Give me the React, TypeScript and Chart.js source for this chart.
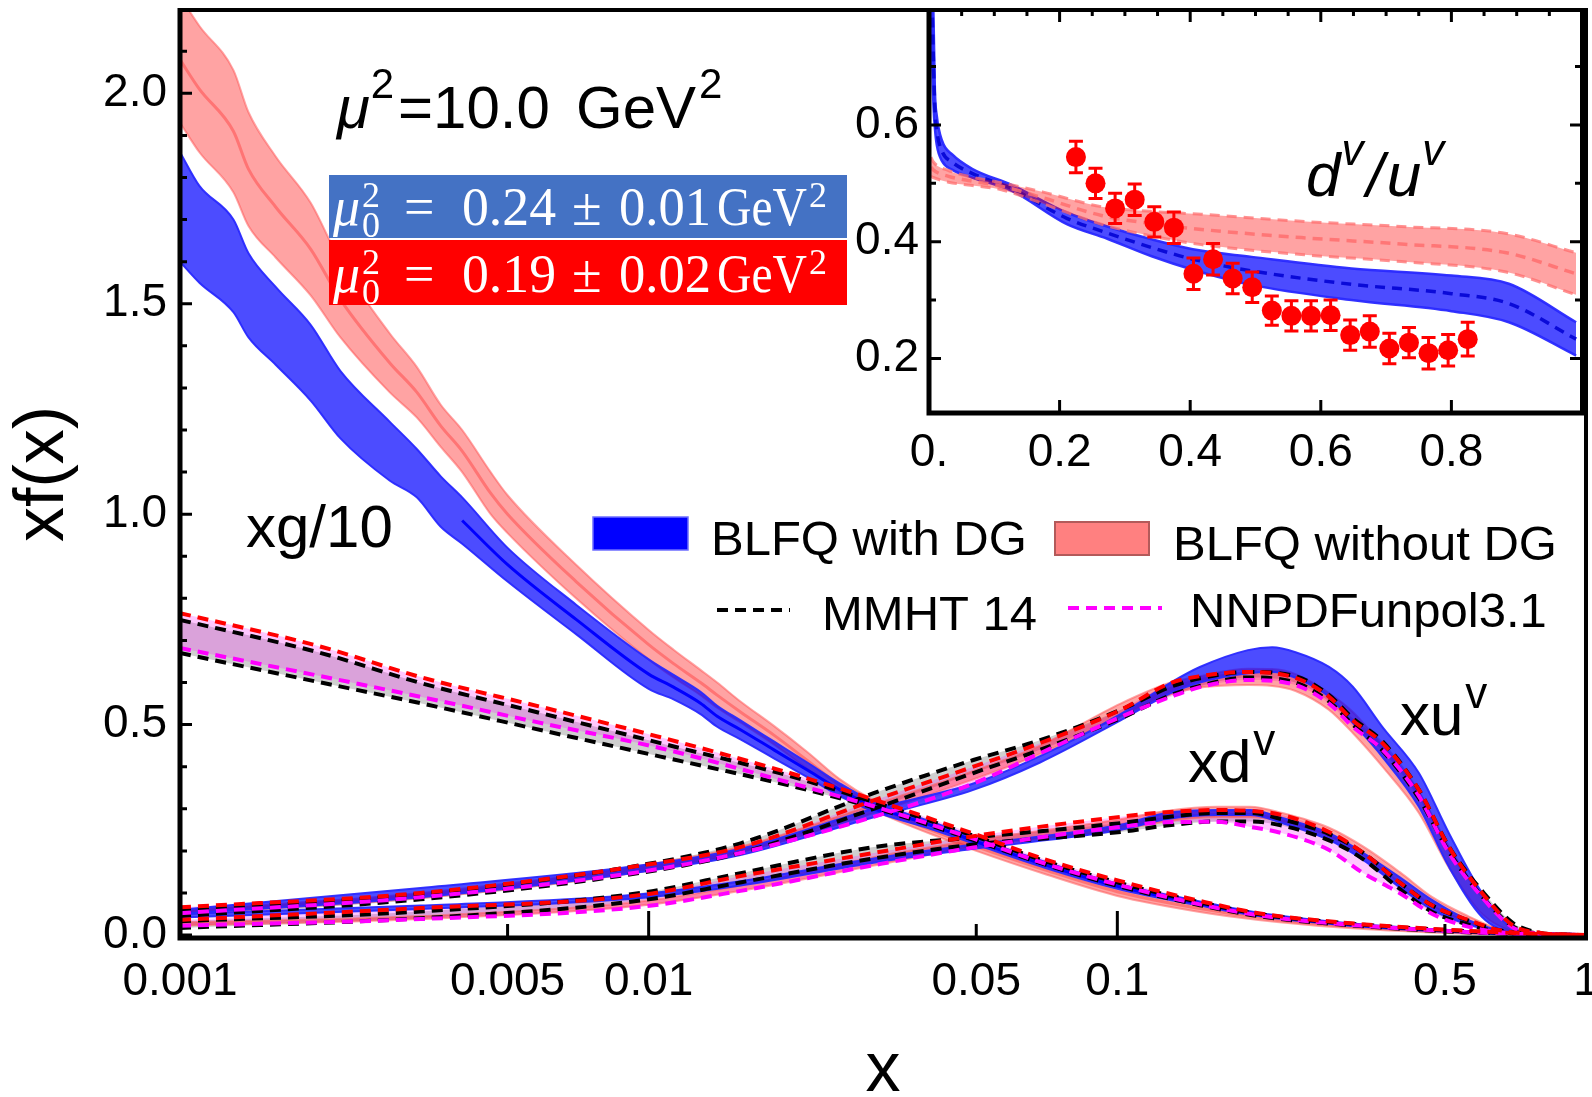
import React, { useEffect, useRef } from 'react';
import { Chart, registerables } from 'chart.js';

Chart.register(...registerables);

const SANS = "'Liberation Sans', Arial, Helvetica, sans-serif";
const SERIF = "'Liberation Serif', 'Times New Roman', serif";

// ---------------- main panel: axes ----------------
const X_TICKS = [0.001, 0.005, 0.01, 0.05, 0.1, 0.5, 1];
const X_TICK_LABELS = ['0.001', '0.005', '0.01', '0.05', '0.1', '0.5', '1'];
const X_MARKS_MAJOR = [0.01, 0.1];
const X_MARKS_MINOR = [0.005, 0.05, 0.5];
const Y_TICKS = [0, 0.5, 1, 1.5, 2];
const Y_TICK_LABELS = ['0.0', '0.5', '1.0', '1.5', '2.0'];
const Y_MINOR = [0.1, 0.2, 0.3, 0.4, 0.6, 0.7, 0.8, 0.9, 1.1, 1.2, 1.3, 1.4, 1.6, 1.7, 1.8, 1.9, 2.1];

// ---------------- xg/10 ----------------
const XG_BLUE_X = [0.001, 0.0011, 0.0013, 0.0014, 0.0016, 0.0019, 0.0022, 0.0028, 0.0032, 0.0036, 0.004, 0.005, 0.007, 0.01, 0.0113, 0.0129, 0.014, 0.0157, 0.0185, 0.0218, 0.0256, 0.03, 0.04, 0.05, 0.07, 0.1, 0.15, 0.2, 0.3, 0.5, 0.7, 1];
const XG_BLUE_LO = [1.60, 1.55, 1.48, 1.42, 1.355, 1.27, 1.18, 1.08, 1.04, 0.97, 0.93, 0.84, 0.715, 0.585, 0.56, 0.525, 0.495, 0.465, 0.42, 0.375, 0.33, 0.295, 0.252, 0.215, 0.16, 0.11, 0.07, 0.045, 0.024, 0.008, 0.002, 0];
const XG_BLUE_HI = [1.86, 1.78, 1.70, 1.62, 1.54, 1.45, 1.34, 1.22, 1.155, 1.09, 1.04, 0.92, 0.785, 0.655, 0.618, 0.578, 0.545, 0.51, 0.46, 0.41, 0.36, 0.318, 0.27, 0.23, 0.174, 0.122, 0.08, 0.053, 0.03, 0.012, 0.004, 0];
const XG_BLUE_MID_X = [0.004, 0.005, 0.007, 0.01, 0.0113, 0.0129, 0.014, 0.0157, 0.0185, 0.0218, 0.0256, 0.03, 0.04, 0.05, 0.07, 0.1, 0.15, 0.2, 0.3, 0.5, 0.7, 1];
const XG_BLUE_MID = [0.985, 0.88, 0.75, 0.62, 0.589, 0.551, 0.52, 0.488, 0.44, 0.392, 0.345, 0.307, 0.261, 0.222, 0.167, 0.116, 0.075, 0.049, 0.027, 0.01, 0.003, 0];

const XG_PINK_X = [0.001, 0.0011, 0.0013, 0.0014, 0.0016, 0.0019, 0.0022, 0.0028, 0.0032, 0.0036, 0.004, 0.0046, 0.005, 0.007, 0.01, 0.0113, 0.0129, 0.014, 0.0157, 0.0185, 0.0218, 0.0256, 0.03, 0.04, 0.05, 0.07, 0.1, 0.15, 0.2, 0.3, 0.5, 0.7, 1];
const XG_PINK_LO = [1.93, 1.86, 1.765, 1.685, 1.61, 1.52, 1.42, 1.29, 1.23, 1.16, 1.10, 1.00, 0.955, 0.80, 0.655, 0.612, 0.57, 0.54, 0.505, 0.453, 0.395, 0.34, 0.298, 0.24, 0.20, 0.145, 0.093, 0.055, 0.036, 0.018, 0.005, 0.001, 0];
const XG_PINK_HI = [2.23, 2.16, 2.055, 1.955, 1.85, 1.74, 1.60, 1.43, 1.35, 1.26, 1.20, 1.10, 1.045, 0.88, 0.725, 0.678, 0.63, 0.60, 0.555, 0.497, 0.435, 0.37, 0.322, 0.26, 0.22, 0.165, 0.113, 0.071, 0.048, 0.026, 0.011, 0.003, 0];
const XG_PINK_MID = [2.08, 2.01, 1.91, 1.82, 1.73, 1.63, 1.51, 1.36, 1.29, 1.21, 1.15, 1.05, 1.00, 0.84, 0.69, 0.645, 0.60, 0.57, 0.53, 0.475, 0.415, 0.355, 0.31, 0.25, 0.21, 0.155, 0.103, 0.063, 0.042, 0.022, 0.008, 0.002, 0];

const XG_GLOBAL_X = [0.001, 0.002, 0.00326, 0.006, 0.0106, 0.02, 0.0302, 0.0493, 0.07, 0.1016, 0.15, 0.2, 0.3, 0.5, 0.7, 1];
const XG_MMHT_LO = [0.670, 0.600, 0.551, 0.485, 0.424, 0.355, 0.303, 0.226, 0.168, 0.115, 0.071, 0.045, 0.025, 0.009, 0.003, 0];
const XG_MMHT_HI = [0.749, 0.670, 0.599, 0.525, 0.456, 0.378, 0.316, 0.236, 0.176, 0.123, 0.078, 0.050, 0.029, 0.012, 0.004, 0];
const XG_NNPDF_LO = [0.682, 0.615, 0.566, 0.502, 0.444, 0.362, 0.306, 0.229, 0.170, 0.118, 0.073, 0.047, 0.026, 0.010, 0.003, 0];
const XG_NNPDF_HI = [0.765, 0.685, 0.613, 0.540, 0.470, 0.385, 0.322, 0.241, 0.180, 0.128, 0.081, 0.052, 0.030, 0.013, 0.005, 0];

// ---------------- xu^v ----------------
const XU_GLOBAL_X = [0.001, 0.00326, 0.0096, 0.0157, 0.0302, 0.0493, 0.0684, 0.1016, 0.13, 0.15, 0.19, 0.24, 0.283, 0.318, 0.368, 0.44, 0.51, 0.6, 0.7, 0.8, 0.9, 1];
const XU_MMHT_LO = [0.045, 0.085, 0.148, 0.195, 0.300, 0.385, 0.440, 0.515, 0.570, 0.592, 0.612, 0.600, 0.555, 0.500, 0.438, 0.325, 0.198, 0.092, 0.020, 0.003, 0.0005, 0];
const XU_MMHT_HI = [0.058, 0.098, 0.166, 0.218, 0.337, 0.416, 0.463, 0.535, 0.590, 0.610, 0.625, 0.615, 0.570, 0.515, 0.460, 0.345, 0.210, 0.105, 0.028, 0.005, 0.001, 0];
const XU_NNPDF_LO = [0.052, 0.090, 0.150, 0.195, 0.281, 0.360, 0.432, 0.518, 0.566, 0.589, 0.606, 0.594, 0.550, 0.495, 0.440, 0.330, 0.195, 0.090, 0.017, 0.003, 0.0005, 0];
const XU_NNPDF_HI = [0.066, 0.100, 0.165, 0.209, 0.320, 0.400, 0.456, 0.535, 0.599, 0.615, 0.625, 0.611, 0.566, 0.510, 0.456, 0.345, 0.209, 0.100, 0.022, 0.005, 0.001, 0];

const XU_BLFQ_X = [0.001, 0.00326, 0.0096, 0.0157, 0.0302, 0.0493, 0.0684, 0.1016, 0.13, 0.15, 0.19, 0.214, 0.24, 0.283, 0.318, 0.368, 0.44, 0.51, 0.6, 0.7, 0.8, 1];
const XU_BLUE_LO = [0.050, 0.090, 0.150, 0.190, 0.280, 0.345, 0.410, 0.510, 0.575, 0.600, 0.622, 0.625, 0.611, 0.566, 0.504, 0.423, 0.305, 0.162, 0.043, 0.005, 0.0, 0];
const XU_BLUE_HI = [0.060, 0.112, 0.165, 0.205, 0.300, 0.360, 0.425, 0.525, 0.600, 0.637, 0.677, 0.684, 0.672, 0.637, 0.590, 0.494, 0.385, 0.242, 0.100, 0.015, 0.003, 0];
const XU_PINK_LO = [0.050, 0.088, 0.150, 0.195, 0.290, 0.370, 0.430, 0.520, 0.572, 0.588, 0.594, 0.592, 0.580, 0.535, 0.480, 0.400, 0.290, 0.160, 0.050, 0.008, 0.001, 0];
const XU_PINK_HI = [0.058, 0.100, 0.165, 0.210, 0.310, 0.390, 0.450, 0.550, 0.600, 0.615, 0.633, 0.632, 0.620, 0.575, 0.530, 0.450, 0.340, 0.210, 0.090, 0.015, 0.003, 0];

// ---------------- xd^v ----------------
const XD_X = [0.001, 0.00326, 0.0096, 0.0157, 0.0302, 0.0493, 0.1016, 0.127, 0.163, 0.192, 0.225, 0.283, 0.335, 0.40, 0.47, 0.56, 0.65, 0.8, 1];
const XD_MMHT_LO = [0.017, 0.040, 0.082, 0.125, 0.182, 0.215, 0.245, 0.260, 0.270, 0.270, 0.260, 0.225, 0.180, 0.110, 0.055, 0.025, 0.008, 0.001, 0];
const XD_MMHT_HI = [0.033, 0.056, 0.100, 0.147, 0.209, 0.232, 0.266, 0.280, 0.290, 0.290, 0.275, 0.240, 0.195, 0.125, 0.070, 0.035, 0.012, 0.002, 0];
const XD_NNPDF_LO = [0.022, 0.038, 0.067, 0.105, 0.166, 0.208, 0.257, 0.268, 0.269, 0.257, 0.242, 0.202, 0.147, 0.100, 0.050, 0.020, 0.007, 0.001, 0];
const XD_NNPDF_HI = [0.036, 0.064, 0.095, 0.140, 0.195, 0.235, 0.281, 0.292, 0.297, 0.295, 0.285, 0.245, 0.195, 0.125, 0.070, 0.036, 0.012, 0.002, 0];
const XD_BLUE_LO = [0.042, 0.062, 0.088, 0.118, 0.172, 0.205, 0.250, 0.275, 0.285, 0.285, 0.266, 0.226, 0.178, 0.114, 0.060, 0.025, 0.008, 0.001, 0];
const XD_BLUE_HI = [0.050, 0.070, 0.097, 0.128, 0.182, 0.215, 0.262, 0.290, 0.297, 0.297, 0.278, 0.242, 0.195, 0.138, 0.083, 0.036, 0.012, 0.002, 0];
const XD_PINK_LO = [0.022, 0.038, 0.070, 0.105, 0.165, 0.210, 0.250, 0.270, 0.280, 0.280, 0.270, 0.235, 0.190, 0.125, 0.070, 0.030, 0.010, 0.001, 0];
const XD_PINK_HI = [0.030, 0.045, 0.080, 0.118, 0.185, 0.225, 0.275, 0.295, 0.305, 0.305, 0.290, 0.255, 0.210, 0.150, 0.090, 0.045, 0.015, 0.003, 0];

// ---------------- inset d^v/u^v ----------------
const R_X_TICKS = [0, 0.2, 0.4, 0.6, 0.8];
const R_X_TICK_LABELS = ['0.', '0.2', '0.4', '0.6', '0.8'];
const R_X_TOP_MINOR = [0.05, 0.1, 0.15, 0.25, 0.3, 0.35, 0.45, 0.5, 0.55, 0.65, 0.7, 0.75, 0.85, 0.9, 0.95];
const R_Y_TICKS = [0.2, 0.4, 0.6];
const R_Y_TICK_LABELS = ['0.2', '0.4', '0.6'];
const R_Y_MINOR = [0.3, 0.5, 0.7];

const R_BLUE_X = [0.003, 0.005, 0.007, 0.009, 0.012, 0.02, 0.036, 0.066, 0.127, 0.211, 0.273, 0.341, 0.404, 0.494, 0.647, 0.80, 0.888, 0.991];
const R_BLUE_LO = [0.86, 0.70, 0.63, 0.595, 0.565, 0.538, 0.523, 0.51, 0.487, 0.430, 0.405, 0.375, 0.352, 0.326, 0.300, 0.281, 0.262, 0.205];
const R_BLUE_HI = [1.00, 0.88, 0.78, 0.66, 0.615, 0.573, 0.549, 0.525, 0.497, 0.450, 0.426, 0.404, 0.387, 0.374, 0.354, 0.342, 0.328, 0.262];
const R_BLUE_MID = [0.93, 0.79, 0.70, 0.627, 0.59, 0.555, 0.536, 0.517, 0.491, 0.44, 0.415, 0.39, 0.37, 0.35, 0.327, 0.311, 0.294, 0.233];

const R_PINK_X = [0.003, 0.0065, 0.03, 0.06, 0.111, 0.175, 0.264, 0.34, 0.417, 0.570, 0.723, 0.884, 0.991];
const R_PINK_LO = [0.512, 0.51, 0.502, 0.497, 0.489, 0.465, 0.43, 0.41, 0.395, 0.378, 0.366, 0.348, 0.309];
const R_PINK_HI = [0.545, 0.537, 0.522, 0.512, 0.501, 0.485, 0.46, 0.452, 0.447, 0.435, 0.426, 0.414, 0.381];
const R_PINK_MID = [0.528, 0.523, 0.512, 0.505, 0.495, 0.475, 0.445, 0.431, 0.421, 0.407, 0.396, 0.381, 0.345];

const DATA_X = [0.225, 0.255, 0.285, 0.315, 0.345, 0.375, 0.405, 0.435, 0.465, 0.495, 0.525, 0.555, 0.585, 0.615, 0.645, 0.675, 0.705, 0.735, 0.765, 0.795, 0.825];
const DATA_Y = [0.545, 0.500, 0.457, 0.472, 0.434, 0.424, 0.345, 0.370, 0.337, 0.322, 0.282, 0.273, 0.273, 0.274, 0.240, 0.246, 0.217, 0.227, 0.209, 0.214, 0.233];
const DATA_ERR = [0.027, 0.026, 0.026, 0.027, 0.026, 0.027, 0.027, 0.027, 0.026, 0.026, 0.025, 0.026, 0.026, 0.026, 0.026, 0.027, 0.026, 0.026, 0.027, 0.027, 0.029];

// ---------------- styles ----------------
const BLUE_FILL = 'rgba(0,0,255,0.70)';
const BLUE_EDGE = 'rgba(40,40,255,0.95)';
const PINK_FILL = 'rgba(255,0,0,0.36)';
const PINK_EDGE = 'rgba(255,90,90,0.55)';
const GRAY_FILL = 'rgba(140,140,140,0.42)';
const MAG_FILL = 'rgba(255,0,255,0.22)';
const DASH = [11, 7];
const DASH_W = 4;

type P = { x: number; y: number };
const pts = (xs: number[], ys: number[]): P[] => xs.map((x, i) => ({ x, y: ys[i] }));

function line(data: P[], color: string, width: number, order: number, dash: number[] = [], fill: any = false, bg?: string) {
  return {
    data,
    borderColor: color,
    borderWidth: width,
    borderDash: dash,
    order,
    fill,
    backgroundColor: bg ?? 'transparent',
    pointRadius: 0,
    pointHoverRadius: 0,
    cubicInterpolationMode: 'monotone',
    clip: 0,
  };
}

function band(xs: number[], lo: number[], hi: number[], fillColor: string, edge: string, w: number, order: number, dash: number[] = []) {
  return [line(pts(xs, lo), edge, w, order, dash), line(pts(xs, hi), edge, w, order, dash, '-1', fillColor)];
}

function txt(ctx: CanvasRenderingContext2D, s: string, x: number, y: number, font: string, color = '#000', maxW?: number) {
  ctx.font = font;
  ctx.fillStyle = color;
  ctx.textAlign = 'left';
  ctx.textBaseline = 'alphabetic';
  if (maxW) ctx.fillText(s, x, y, maxW);
  else ctx.fillText(s, x, y);
  return ctx.measureText(s).width;
}

const mainOverlay = {
  id: 'mainOverlay',
  afterDraw(chart: any) {
    const { ctx, chartArea: a } = chart;
    const xs = chart.scales.x;
    const ys = chart.scales.y;
    ctx.save();
    // inward ticks
    ctx.strokeStyle = '#000';
    ctx.lineWidth = 3;
    ctx.setLineDash([]);
    ctx.beginPath();
    Y_TICKS.forEach((v) => { const y = ys.getPixelForValue(v); ctx.moveTo(a.left, y); ctx.lineTo(a.left + 12, y); });
    Y_MINOR.forEach((v) => { const y = ys.getPixelForValue(v); ctx.moveTo(a.left, y); ctx.lineTo(a.left + 7, y); });
    X_MARKS_MAJOR.forEach((v) => { const x = xs.getPixelForValue(v); ctx.moveTo(x, a.bottom); ctx.lineTo(x, a.bottom - 27); });
    X_MARKS_MINOR.forEach((v) => { const x = xs.getPixelForValue(v); ctx.moveTo(x, a.bottom); ctx.lineTo(x, a.bottom - 14); });
    ctx.stroke();
    // frame
    ctx.lineWidth = 4;
    ctx.strokeRect(a.left, a.top, a.right - a.left, a.bottom - a.top);
    ctx.lineWidth = 5;
    ctx.beginPath();
    ctx.moveTo(a.left, a.top - 2);
    ctx.lineTo(a.left, a.bottom);
    ctx.lineTo(a.right + 2, a.bottom);
    ctx.stroke();

    // mu^2 = 10.0 GeV^2
    let x = 337;
    x += txt(ctx, 'μ', x, 128, `italic 60px ${SANS}`);
    txt(ctx, '2', x + 1, 98, `42px ${SANS}`);
    txt(ctx, '=10.0', 398, 128, `60px ${SANS}`);
    const gw = txt(ctx, 'GeV', 576, 128, `60px ${SANS}`);
    txt(ctx, '2', 576 + gw + 3, 98, `42px ${SANS}`);

    // boxes
    ctx.fillStyle = '#4472c4';
    ctx.fillRect(329, 175, 518, 63);
    ctx.fillStyle = '#ff0000';
    ctx.fillRect(329, 240, 518, 65);
    const boxLine = (base: number, val: string, err: string) => {
      txt(ctx, 'μ', 333, base, `italic 54px ${SERIF}`, '#fff');
      txt(ctx, '2', 362, base - 18, `36px ${SERIF}`, '#fff');
      txt(ctx, '0', 362, base + 12, `36px ${SERIF}`, '#fff');
      txt(ctx, '=', 404, base, `54px ${SERIF}`, '#fff');
      txt(ctx, val, 462, base, `54px ${SERIF}`, '#fff', 94);
      txt(ctx, '±', 572, base, `54px ${SERIF}`, '#fff', 30);
      txt(ctx, err, 619, base, `54px ${SERIF}`, '#fff', 92);
      txt(ctx, 'GeV', 717, base, `54px ${SERIF}`, '#fff', 90);
      txt(ctx, '2', 809, base - 18, `36px ${SERIF}`, '#fff');
    };
    boxLine(225, '0.24', '0.01');
    boxLine(292, '0.19', '0.02');

    // curve labels
    txt(ctx, 'xg/10', 246, 547, `60px ${SANS}`);
    const uw = txt(ctx, 'xu', 1400, 735, `60px ${SANS}`);
    txt(ctx, 'v', 1400 + uw + 2, 708, `44px ${SANS}`);
    const dw = txt(ctx, 'xd', 1188, 782, `60px ${SANS}`);
    txt(ctx, 'v', 1188 + dw + 2, 755, `44px ${SANS}`);

    // legend
    ctx.fillStyle = '#0000ff';
    ctx.fillRect(593, 517, 95, 33);
    ctx.strokeStyle = 'rgba(110,110,255,1)';
    ctx.lineWidth = 1.5;
    ctx.strokeRect(593, 517, 95, 33);
    txt(ctx, 'BLFQ with DG', 711, 555, `49px ${SANS}`);
    ctx.fillStyle = '#ff8080';
    ctx.fillRect(1055, 522, 94, 33);
    ctx.strokeStyle = '#b35a5a';
    ctx.lineWidth = 2;
    ctx.strokeRect(1055, 522, 94, 33);
    txt(ctx, 'BLFQ without DG', 1173, 560, `49px ${SANS}`);
    ctx.lineWidth = DASH_W;
    ctx.setLineDash(DASH);
    ctx.strokeStyle = '#000';
    ctx.beginPath(); ctx.moveTo(717, 610); ctx.lineTo(790, 610); ctx.stroke();
    ctx.strokeStyle = '#ff00ff';
    ctx.beginPath(); ctx.moveTo(1068, 608); ctx.lineTo(1162, 608); ctx.stroke();
    ctx.setLineDash([]);
    txt(ctx, 'MMHT 14', 822, 630, `49px ${SANS}`);
    txt(ctx, 'NNPDFunpol3.1', 1190, 627, `49px ${SANS}`);
    ctx.restore();
  },
};

const insetOverlay = {
  id: 'insetOverlay',
  beforeDraw(chart: any) {
    const { ctx, chartArea: a } = chart;
    ctx.save();
    ctx.fillStyle = '#fff';
    ctx.fillRect(a.left, a.top, a.right - a.left, a.bottom - a.top);
    ctx.restore();
  },
  afterDatasetsDraw(chart: any) {
    const { ctx } = chart;
    const xs = chart.scales.x;
    const ys = chart.scales.y;
    ctx.save();
    ctx.strokeStyle = '#ff0000';
    ctx.lineWidth = 3;
    ctx.beginPath();
    DATA_X.forEach((xv, i) => {
      const px = xs.getPixelForValue(xv);
      const top = ys.getPixelForValue(DATA_Y[i] + DATA_ERR[i]);
      const bot = ys.getPixelForValue(DATA_Y[i] - DATA_ERR[i]);
      ctx.moveTo(px, top); ctx.lineTo(px, bot);
      ctx.moveTo(px - 7, top); ctx.lineTo(px + 7, top);
      ctx.moveTo(px - 7, bot); ctx.lineTo(px + 7, bot);
    });
    ctx.stroke();
    ctx.restore();
  },
  afterDraw(chart: any) {
    const { ctx, chartArea: a } = chart;
    const xs = chart.scales.x;
    const ys = chart.scales.y;
    ctx.save();
    ctx.strokeStyle = '#000';
    ctx.lineWidth = 3;
    ctx.beginPath();
    R_Y_TICKS.forEach((v) => {
      const y = ys.getPixelForValue(v);
      ctx.moveTo(a.left, y); ctx.lineTo(a.left + 12, y);
      ctx.moveTo(a.right, y); ctx.lineTo(a.right - 12, y);
    });
    R_Y_MINOR.forEach((v) => {
      const y = ys.getPixelForValue(v);
      ctx.moveTo(a.left, y); ctx.lineTo(a.left + 7, y);
      ctx.moveTo(a.right, y); ctx.lineTo(a.right - 7, y);
    });
    R_X_TICKS.forEach((v) => {
      if (v === 0) return;
      const x = xs.getPixelForValue(v);
      ctx.moveTo(x, a.bottom); ctx.lineTo(x, a.bottom - 13);
      ctx.moveTo(x, a.top); ctx.lineTo(x, a.top + 12);
    });
    R_X_TOP_MINOR.forEach((v) => {
      const x = xs.getPixelForValue(v);
      ctx.moveTo(x, a.top); ctx.lineTo(x, a.top + 6);
    });
    ctx.stroke();
    ctx.lineWidth = 4;
    ctx.strokeRect(a.left, a.top, a.right - a.left, a.bottom - a.top);
    ctx.lineWidth = 5;
    ctx.beginPath();
    ctx.moveTo(a.left, a.top - 2);
    ctx.lineTo(a.left, a.bottom);
    ctx.lineTo(a.right + 2, a.bottom);
    ctx.stroke();
    // label d^v/u^v
    let x = 1306 - 780;
    x += txt(ctx, 'd', x, 196, `italic 62px ${SANS}`);
    x += txt(ctx, 'v', x + 1, 165, `italic 44px ${SANS}`) + 4;
    x += txt(ctx, '/', x, 196, `italic 62px ${SANS}`) + 3;
    x += txt(ctx, 'u', x, 196, `italic 62px ${SANS}`);
    txt(ctx, 'v', x + 1, 165, `italic 44px ${SANS}`);
    ctx.restore();
  },
};

export default function App() {
  const mainRef = useRef<HTMLCanvasElement>(null);
  const insetRef = useRef<HTMLCanvasElement>(null);

  useEffect(() => {
    const datasets: any[] = [
      // global fits: dashed bounds (top-most)
      line(pts(XG_GLOBAL_X, XG_NNPDF_HI), '#ff0000', DASH_W, 0, DASH),
      line(pts(XU_GLOBAL_X, XU_NNPDF_HI), '#ff0000', DASH_W, 0, DASH),
      line(pts(XD_X, XD_NNPDF_HI), '#ff0000', DASH_W, 0, DASH),
      line(pts(XG_GLOBAL_X, XG_NNPDF_LO), '#ff00ff', DASH_W, 1, DASH),
      line(pts(XU_GLOBAL_X, XU_NNPDF_LO), '#ff00ff', DASH_W, 1, DASH),
      line(pts(XD_X, XD_NNPDF_LO), '#ff00ff', DASH_W, 1, DASH),
      line(pts(XG_GLOBAL_X, XG_MMHT_HI), '#000000', DASH_W, 2, DASH),
      line(pts(XG_GLOBAL_X, XG_MMHT_LO), '#000000', DASH_W, 2, DASH),
      line(pts(XU_GLOBAL_X, XU_MMHT_HI), '#000000', DASH_W, 2, DASH),
      line(pts(XU_GLOBAL_X, XU_MMHT_LO), '#000000', DASH_W, 2, DASH),
      line(pts(XD_X, XD_MMHT_HI), '#000000', DASH_W, 2, DASH),
      line(pts(XD_X, XD_MMHT_LO), '#000000', DASH_W, 2, DASH),
      // BLFQ with DG
      line(pts(XG_BLUE_MID_X, XG_BLUE_MID), '#0000ff', 3, 3),
      ...band(XG_BLUE_X, XG_BLUE_LO, XG_BLUE_HI, BLUE_FILL, BLUE_EDGE, 2, 4),
      ...band(XU_BLFQ_X, XU_BLUE_LO, XU_BLUE_HI, BLUE_FILL, BLUE_EDGE, 2, 4),
      ...band(XD_X, XD_BLUE_LO, XD_BLUE_HI, BLUE_FILL, BLUE_EDGE, 2, 4),
      // BLFQ without DG
      line(pts(XG_PINK_X, XG_PINK_MID), 'rgba(255,100,100,0.75)', 3, 5),
      ...band(XG_PINK_X, XG_PINK_LO, XG_PINK_HI, PINK_FILL, PINK_EDGE, 2, 6),
      ...band(XU_BLFQ_X, XU_PINK_LO, XU_PINK_HI, PINK_FILL, PINK_EDGE, 2, 6),
      ...band(XD_X, XD_PINK_LO, XD_PINK_HI, PINK_FILL, PINK_EDGE, 2, 6),
      // global fit bands (fills only, bottom)
      ...band(XG_GLOBAL_X, XG_MMHT_LO, XG_MMHT_HI, GRAY_FILL, 'transparent', 0, 10),
      ...band(XG_GLOBAL_X, XG_NNPDF_LO, XG_NNPDF_HI, MAG_FILL, 'transparent', 0, 9),
      ...band(XU_GLOBAL_X, XU_MMHT_LO, XU_MMHT_HI, GRAY_FILL, 'transparent', 0, 10),
      ...band(XU_GLOBAL_X, XU_NNPDF_LO, XU_NNPDF_HI, MAG_FILL, 'transparent', 0, 9),
      ...band(XD_X, XD_MMHT_LO, XD_MMHT_HI, GRAY_FILL, 'transparent', 0, 10),
      ...band(XD_X, XD_NNPDF_LO, XD_NNPDF_HI, MAG_FILL, 'transparent', 0, 9),
    ];

    const main = new Chart(mainRef.current as HTMLCanvasElement, {
      type: 'line',
      data: { datasets },
      options: {
        animation: false,
        responsive: false,
        maintainAspectRatio: false,
        devicePixelRatio: 1,
        events: [],
        layout: { padding: { left: 0, right: 6, top: 10, bottom: 0 } },
        plugins: { legend: { display: false }, tooltip: { enabled: false } },
        scales: {
          x: {
            type: 'logarithmic',
            min: 0.001,
            max: 1,
            grid: { display: false, drawTicks: false },
            border: { display: false },
            afterBuildTicks: (s: any) => { s.ticks = X_TICKS.map((v) => ({ value: v })); },
            afterFit: (s: any) => { s.height = 159; s.paddingLeft = 0; s.paddingRight = 0; },
            ticks: {
              autoSkip: false,
              maxRotation: 0,
              minRotation: 0,
              padding: 17,
              color: '#000',
              font: { family: SANS, size: 46 },
              callback: (_v: any, i: number) => X_TICK_LABELS[i],
            },
            title: { display: true, text: 'x', color: '#000', font: { family: SANS, size: 70 }, padding: { top: 0, bottom: -17 } },
          },
          y: {
            type: 'linear',
            min: -0.007,
            max: 2.198,
            grid: { display: false, drawTicks: false },
            border: { display: false },
            afterBuildTicks: (s: any) => { s.ticks = Y_TICKS.map((v) => ({ value: v })); },
            afterFit: (s: any) => { s.width = 180; s.paddingTop = 0; s.paddingBottom = 0; },
            ticks: {
              autoSkip: false,
              padding: 13,
              color: '#000',
              font: { family: SANS, size: 46 },
              callback: (_v: any, i: number) => Y_TICK_LABELS[i],
            },
            title: { display: true, text: 'xf(x)', color: '#000', font: { family: SANS, size: 70 }, padding: { top: 2, bottom: 0 } },
          },
        },
      } as any,
      plugins: [mainOverlay],
    });

    const insetData: any[] = [
      {
        data: pts(DATA_X, DATA_Y),
        showLine: false,
        pointRadius: 10,
        pointHoverRadius: 10,
        pointBackgroundColor: '#ff0000',
        pointBorderColor: '#ff0000',
        pointBorderWidth: 0,
        order: 0,
      },
      line(pts(R_PINK_X, R_PINK_MID), 'rgba(255,110,110,0.85)', 3.5, 1, [10, 7]),
      ...band(R_PINK_X, R_PINK_LO, R_PINK_HI, PINK_FILL, 'rgba(255,110,110,0.75)', 3, 2, [10, 7]),
      line(pts(R_BLUE_X, R_BLUE_MID), '#0a0ad8', 3.5, 3, [10, 7]),
      ...band(R_BLUE_X, R_BLUE_LO, R_BLUE_HI, BLUE_FILL, BLUE_EDGE, 2.5, 4),
    ];

    const inset = new Chart(insetRef.current as HTMLCanvasElement, {
      type: 'line',
      data: { datasets: insetData },
      options: {
        animation: false,
        responsive: false,
        maintainAspectRatio: false,
        devicePixelRatio: 1,
        events: [],
        layout: { padding: { left: 0, right: 5, top: 10, bottom: 0 } },
        plugins: { legend: { display: false }, tooltip: { enabled: false } },
        scales: {
          x: {
            type: 'linear',
            min: 0,
            max: 1,
            grid: { display: false, drawTicks: false },
            border: { display: false },
            afterBuildTicks: (s: any) => { s.ticks = R_X_TICKS.map((v) => ({ value: v })); },
            afterFit: (s: any) => { s.height = 87; s.paddingLeft = 0; s.paddingRight = 0; },
            ticks: {
              autoSkip: false,
              maxRotation: 0,
              minRotation: 0,
              padding: 13,
              color: '#000',
              font: { family: SANS, size: 46 },
              callback: (_v: any, i: number) => R_X_TICK_LABELS[i],
            },
          },
          y: {
            type: 'linear',
            min: 0.1065,
            max: 0.797,
            grid: { display: false, drawTicks: false },
            border: { display: false },
            afterBuildTicks: (s: any) => { s.ticks = R_Y_TICKS.map((v) => ({ value: v })); },
            afterFit: (s: any) => { s.width = 149; s.paddingTop = 0; s.paddingBottom = 0; },
            ticks: {
              autoSkip: false,
              padding: 10,
              color: '#000',
              font: { family: SANS, size: 46 },
              callback: (_v: any, i: number) => R_Y_TICK_LABELS[i],
            },
          },
        },
      } as any,
      plugins: [insetOverlay],
    });

    return () => {
      main.destroy();
      inset.destroy();
    };
  }, []);

  return (
    <div style={{ position: 'fixed', left: 0, top: 0, width: 1592, height: 1097, background: '#fff', overflow: 'hidden' }}>
      <canvas ref={mainRef} width={1592} height={1097} style={{ position: 'absolute', left: 0, top: 0, width: 1592, height: 1097 }} />
      <canvas ref={insetRef} width={812} height={500} style={{ position: 'absolute', left: 780, top: 0, width: 812, height: 500 }} />
    </div>
  );
}
